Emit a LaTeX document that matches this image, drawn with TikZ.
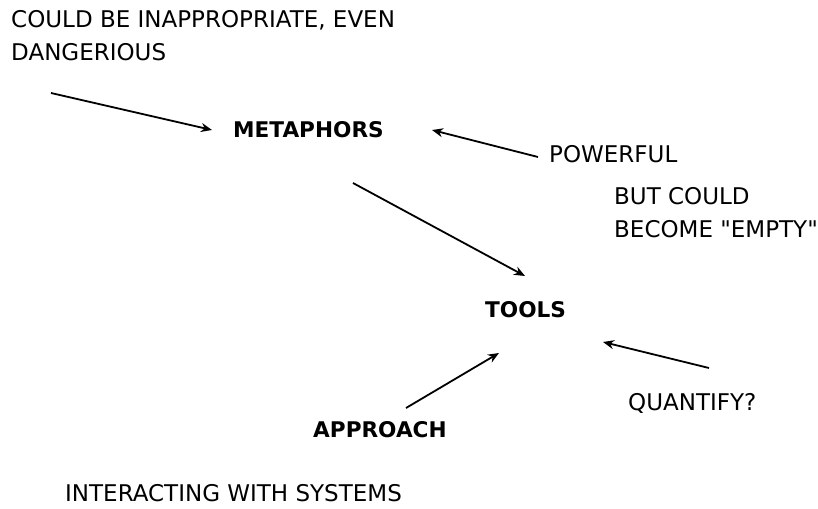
\documentclass[tikz,border=0pt]{standalone}
\usepackage{fontspec}
\setmainfont{DejaVu Sans}[Ligatures=TeXOff]
\usetikzlibrary{arrows.meta}
\begin{document}
\begin{tikzpicture}[x=1pt,y=-1pt,
  lbl/.style={anchor=base west,inner sep=0pt,font=\fontsize{23}{33}\selectfont,align=left},
  key/.style={lbl,font=\fontsize{21.6}{33}\selectfont\bfseries},
  link/.style={line width=1.8pt,-{Stealth[length=11pt,width=9pt]}}]
\useasboundingbox (0,0) rectangle (818,508);
% labels (multi-line labels are placed by the baseline of their last line)
\node[lbl] (risk) at (11,61) {COULD BE INAPPROPRIATE, EVEN\\DANGERIOUS};
\node[key] (meta) at (233,137) {METAPHORS};
\node[lbl] (power) at (549,162) {POWERFUL};
\node[lbl] (empty) at (614,237) {BUT COULD\\BECOME "EMPTY"};
\node[key] (tools) at (485,317) {TOOLS};
\node[lbl] (quant) at (628,410) {QUANTIFY?};
\node[key] (appr) at (313,437) {APPROACH};
\node[lbl] (inter) at (65,501) {INTERACTING WITH SYSTEMS};
% arrow end points
\coordinate (a1s) at (51,93);   \coordinate (a1e) at (212,130);
\coordinate (a2s) at (538,157); \coordinate (a2e) at (432,130);
\coordinate (a3s) at (353,183); \coordinate (a3e) at (525,276);
\coordinate (a4s) at (406,408); \coordinate (a4e) at (499,353);
\coordinate (a5s) at (709,368); \coordinate (a5e) at (603,342);
% connectors
\draw[link] (a1s) -- (a1e);
\draw[link] (a2s) -- (a2e);
\draw[link] (a3s) -- (a3e);
\draw[link] (a4s) -- (a4e);
\draw[link] (a5s) -- (a5e);
\end{tikzpicture}
\end{document}
